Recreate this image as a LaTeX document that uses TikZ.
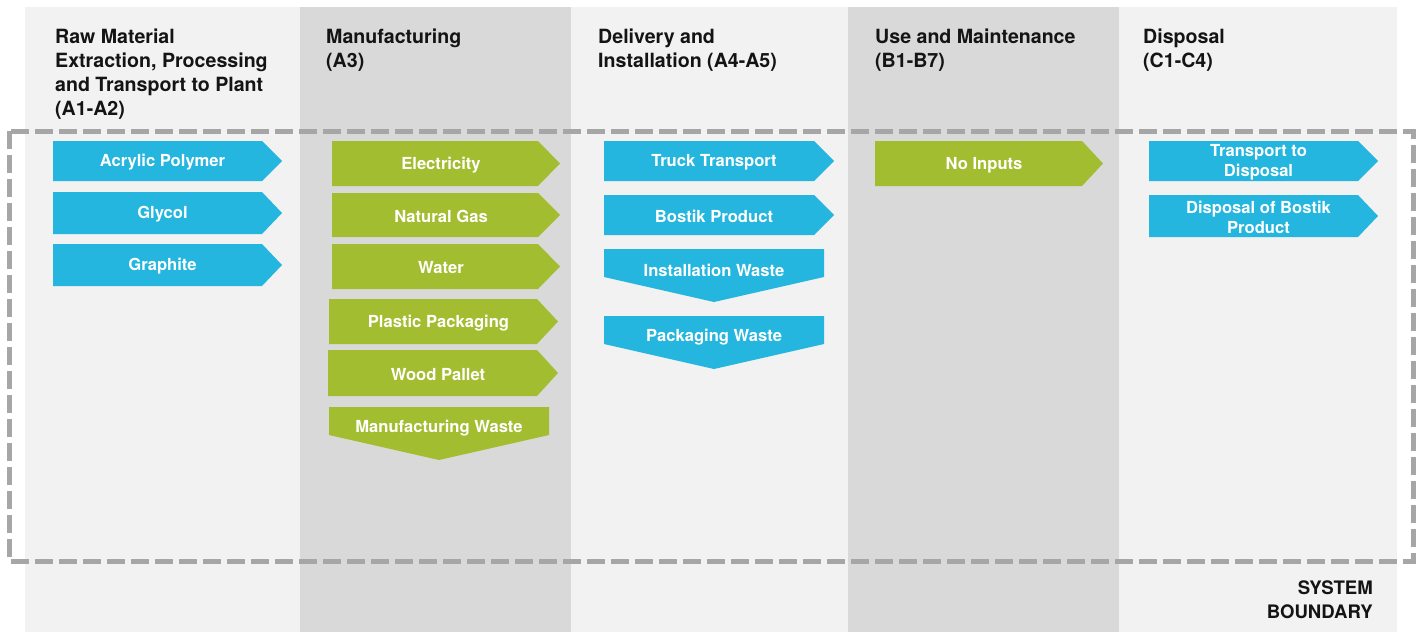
\documentclass[tikz,border=0pt]{standalone}
\usepackage{fontspec}
\setmainfont{TeX Gyre Heros}
\definecolor{blu}{HTML}{24B6DE}
\definecolor{grn}{HTML}{A3BD30}
\definecolor{lightbg}{HTML}{F2F2F2}
\definecolor{darkbg}{HTML}{D9D9D9}
\definecolor{dashc}{HTML}{A6A6A6}
\definecolor{hdrc}{HTML}{141414}
\tikzset{
  hdr/.style={anchor=north west, inner sep=0pt, align=left, text=hdrc,
    font=\bfseries\fontsize{19.6}{24}\selectfont},
  lbl/.style={inner sep=0pt, align=center, text=white,
    font=\bfseries\fontsize{16.6}{19.5}\selectfont},
  bound/.style={draw=dashc, line width=5pt, dash pattern=on 18pt off 6pt},
}
% name, colour, left, top, tip x, bottom, tip length, text
\newcommand\rarrowbox[8]{%
  \fill[#2] (#3,#4) -- ({#5-#7},#4) -- (#5,{(#4+#6)/2}) -- ({#5-#7},#6) -- (#3,#6) -- cycle;
  \node[lbl] (#1) at ({(#3+#5)/2-5},{(#4+#6)/2+1.5}) {#8};
}
% name, colour, left, top, right, side bottom, point y, text
\newcommand\darrowbox[8]{%
  \fill[#2] (#3,#4) -- (#5,#4) -- (#5,#6) -- ({(#3+#5)/2},#7) -- (#3,#6) -- cycle;
  \node[lbl] (#1) at ({(#3+#5)/2},{#4+21}) {#8};
}
\begin{document}
\begin{tikzpicture}[x=1pt,y=-1pt]
\useasboundingbox (0,0) rectangle (1421,632);
\fill[white] (0,0) rectangle (1421,632);
% columns
\fill[lightbg] (25,7) rectangle (300,632);
\fill[darkbg] (300,7) rectangle (571,632);
\fill[lightbg] (571,7) rectangle (848,632);
\fill[darkbg] (848,7) rectangle (1119,632);
\fill[lightbg] (1119,7) rectangle (1397,632);
% headers
\node[hdr] (h1) at (55,29) {Raw Material\\Extraction, Processing\\and Transport to Plant\\(A1-A2)};
\node[hdr] (h2) at (326,29) {Manufacturing\\(A3)};
\node[hdr] (h3) at (598,29) {Delivery and\\Installation (A4-A5)};
\node[hdr] (h4) at (875,29) {Use and Maintenance\\(B1-B7)};
\node[hdr] (h5) at (1143,29) {Disposal\\(C1-C4)};
% boundary
\draw[bound] (9,131) rectangle (1413,561);
\node[anchor=north east, inner sep=0pt, align=right, text=hdrc,
  font=\bfseries\fontsize{18.6}{24}\selectfont] (sb) at (1373,581) {SYSTEM\\BOUNDARY};
% column 1
\rarrowbox{acr}{blu}{53}{141}{282}{181}{20}{Acrylic Polymer}
\rarrowbox{gly}{blu}{53}{192}{282}{234}{20}{Glycol}
\rarrowbox{gra}{blu}{53}{244}{282}{286}{20}{Graphite}
% column 2
\rarrowbox{ele}{grn}{332}{141}{560}{186}{22}{Electricity}
\rarrowbox{gas}{grn}{332}{193}{560}{237}{22}{Natural Gas}
\rarrowbox{wat}{grn}{332}{244}{560}{289}{22}{Water}
\rarrowbox{pla}{grn}{329}{299}{558}{344}{21}{Plastic Packaging}
\rarrowbox{woo}{grn}{328}{350}{558}{396}{21}{Wood Pallet}
\darrowbox{mfw}{grn}{329}{407}{549}{435}{460}{Manufacturing Waste}
% column 3
\rarrowbox{tru}{blu}{604}{141}{834}{181}{20}{Truck Transport}
\rarrowbox{bos}{blu}{604}{195}{834}{235}{20}{Bostik Product}
\darrowbox{inw}{blu}{604}{249}{824}{277}{302}{Installation Waste}
\darrowbox{paw}{blu}{604}{316}{824}{344}{369}{Packaging Waste}
% column 4
\rarrowbox{noi}{grn}{875}{141}{1103}{186}{21}{No Inputs}
% column 5
\rarrowbox{ttd}{blu}{1149}{141}{1378}{181}{20}{Transport to\\Disposal}
\rarrowbox{dob}{blu}{1149}{195}{1378}{237}{20}{Disposal of Bostik\\Product}
\end{tikzpicture}
\end{document}
